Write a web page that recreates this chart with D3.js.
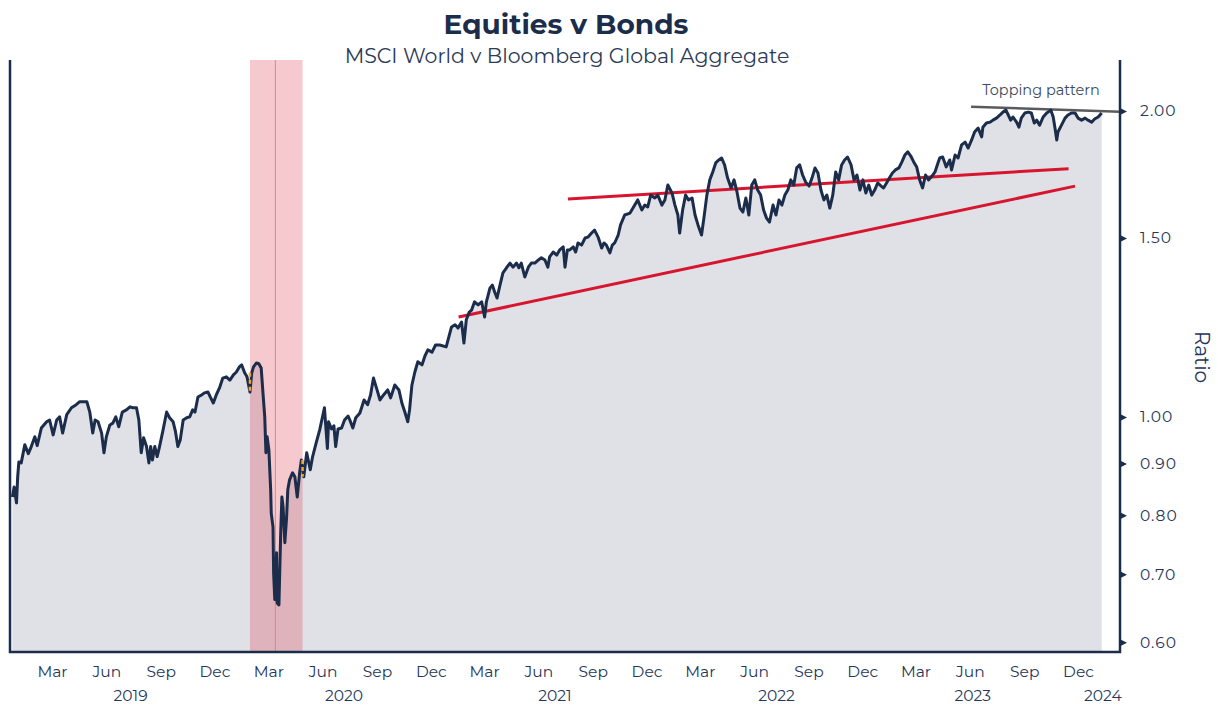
<!DOCTYPE html>
<html>
<head>
<meta charset="utf-8">
<script src="https://cdn.jsdelivr.net/npm/d3@7"></script>
<style>
    html, body { margin: 0; padding: 0; background: #ffffff; }
    #chart svg { display: block; font-family: "Montserrat", "DejaVu Sans", sans-serif; }
</style>
</head>
<body>
<div id="chart"></div>
<script>
// ---- data ----
const dates = [
    "2018-12-24","2018-12-27","2018-12-31","2019-01-02","2019-01-04","2019-01-08","2019-01-14","2019-01-20","2019-01-25","2019-01-31",
    "2019-02-04","2019-02-11","2019-02-20","2019-02-25","2019-03-03","2019-03-09","2019-03-14","2019-03-19","2019-03-26","2019-04-03",
    "2019-04-11","2019-04-17","2019-04-29","2019-05-04","2019-05-09","2019-05-13","2019-05-18","2019-05-24","2019-05-28","2019-06-01",
    "2019-06-07","2019-06-12","2019-06-17","2019-06-22","2019-06-28","2019-07-05","2019-07-11","2019-07-16","2019-07-22","2019-07-26",
    "2019-07-30","2019-08-03","2019-08-08","2019-08-12","2019-08-15","2019-08-18","2019-08-22","2019-08-26","2019-08-30","2019-09-05",
    "2019-09-11","2019-09-16","2019-09-22","2019-09-26","2019-09-30","2019-10-04","2019-10-09","2019-10-15","2019-10-20","2019-10-25",
    "2019-10-29","2019-11-03","2019-11-09","2019-11-14","2019-11-20","2019-11-24","2019-11-29","2019-12-04","2019-12-10","2019-12-15",
    "2019-12-21","2019-12-27","2020-01-02","2020-01-07","2020-01-12","2020-01-16","2020-01-21","2020-01-25","2020-01-30","2020-02-02",
    "2020-02-05","2020-02-10","2020-02-14","2020-02-18","2020-02-21","2020-02-24","2020-02-26","2020-02-28","2020-03-02","2020-03-05",
    "2020-03-06","2020-03-09","2020-03-10","2020-03-12","2020-03-15","2020-03-16","2020-03-19","2020-03-22","2020-03-24","2020-03-26",
    "2020-03-29","2020-04-01","2020-04-03","2020-04-06","2020-04-11","2020-04-15","2020-04-19","2020-04-23","2020-04-26","2020-04-30",
    "2020-05-05","2020-05-11","2020-05-15","2020-05-21","2020-05-27","2020-06-04","2020-06-09","2020-06-11","2020-06-16","2020-06-20",
    "2020-06-23","2020-06-27","2020-07-03","2020-07-08","2020-07-14","2020-07-17","2020-07-22","2020-07-27","2020-08-03","2020-08-10",
    "2020-08-16","2020-08-21","2020-08-26","2020-09-01","2020-09-06","2020-09-12","2020-09-19","2020-09-24","2020-10-01","2020-10-08",
    "2020-10-13","2020-10-18","2020-10-23","2020-10-26","2020-10-30","2020-11-04","2020-11-09","2020-11-16","2020-11-21","2020-11-26",
    "2020-12-03","2020-12-09","2020-12-16","2020-12-27","2021-01-05","2021-01-11","2021-01-16","2021-01-22","2021-01-26","2021-01-30",
    "2021-02-04","2021-02-08","2021-02-13","2021-02-19","2021-02-25","2021-03-02","2021-03-05","2021-03-11","2021-03-15","2021-03-19",
    "2021-03-23","2021-03-28","2021-04-02","2021-04-08","2021-04-14","2021-04-19","2021-04-25","2021-04-29","2021-05-03","2021-05-09",
    "2021-05-15","2021-05-20","2021-05-26","2021-06-01","2021-06-06","2021-06-12","2021-06-17","2021-06-20","2021-06-26","2021-07-02",
    "2021-07-07","2021-07-13","2021-07-16","2021-07-20","2021-07-24","2021-07-30","2021-08-03","2021-08-07","2021-08-13","2021-08-19",
    "2021-08-24","2021-08-30","2021-09-04","2021-09-10","2021-09-16","2021-09-20","2021-09-24","2021-09-30","2021-10-04","2021-10-08",
    "2021-10-14","2021-10-18","2021-10-25","2021-11-03","2021-11-11","2021-11-16","2021-11-23","2021-11-28","2021-12-03","2021-12-08",
    "2021-12-15","2021-12-20","2021-12-27","2022-01-01","2022-01-06","2022-01-13","2022-01-18","2022-01-23","2022-01-26","2022-01-31",
    "2022-02-05","2022-02-10","2022-02-16","2022-02-21","2022-02-26","2022-03-04","2022-03-08","2022-03-13","2022-03-18","2022-03-23",
    "2022-03-28","2022-04-02","2022-04-07","2022-04-12","2022-04-17","2022-04-23","2022-04-28","2022-05-03","2022-05-08","2022-05-13",
    "2022-05-18","2022-05-23","2022-05-28","2022-06-02","2022-06-07","2022-06-12","2022-06-17","2022-06-22","2022-06-27","2022-07-03",
    "2022-07-08","2022-07-13","2022-07-18","2022-07-23","2022-07-28","2022-08-02","2022-08-07","2022-08-12","2022-08-17","2022-08-22",
    "2022-08-27","2022-09-02","2022-09-07","2022-09-12","2022-09-17","2022-09-22","2022-09-27","2022-10-02","2022-10-07","2022-10-12",
    "2022-10-17","2022-10-22","2022-10-27","2022-11-01","2022-11-06","2022-11-12","2022-11-17","2022-11-22","2022-11-27","2022-12-02",
    "2022-12-07","2022-12-12","2022-12-17","2022-12-22","2022-12-27","2023-01-02","2023-01-06","2023-01-11","2023-01-16","2023-01-21",
    "2023-01-26","2023-02-01","2023-02-06","2023-02-11","2023-02-16","2023-02-21","2023-02-26","2023-03-03","2023-03-08","2023-03-13",
    "2023-03-18","2023-03-23","2023-03-29","2023-04-03","2023-04-08","2023-04-11","2023-04-16","2023-04-22","2023-04-28","2023-05-01",
    "2023-05-07","2023-05-12","2023-05-18","2023-05-24","2023-05-29","2023-06-04","2023-06-09","2023-06-15","2023-06-21","2023-06-23",
    "2023-06-29","2023-07-05","2023-07-10","2023-07-16","2023-07-22","2023-07-27","2023-08-01","2023-08-05","2023-08-09","2023-08-13",
    "2023-08-19","2023-08-23","2023-08-27","2023-09-02","2023-09-08","2023-09-13","2023-09-18","2023-09-22","2023-09-27","2023-10-03",
    "2023-10-09","2023-10-16","2023-10-20","2023-10-23","2023-10-26","2023-10-28","2023-11-03","2023-11-09","2023-11-14","2023-11-20",
    "2023-11-26","2023-12-01","2023-12-07","2023-12-13","2023-12-18","2023-12-24","2023-12-29","2024-01-04","2024-01-10"
];

const ratio = [
    0.834,0.853,0.823,0.873,0.903,0.901,0.939,0.920,0.935,0.956,
    0.937,0.975,0.989,0.993,0.960,0.993,1.000,0.964,1.005,1.021,
    1.028,1.035,1.035,1.011,0.964,0.993,0.989,0.964,0.922,0.956,
    0.982,0.986,1.000,0.978,1.011,1.016,1.023,1.021,1.021,0.993,
    0.922,0.954,0.935,0.901,0.935,0.907,0.935,0.914,0.935,0.971,
    1.011,0.998,0.989,0.967,0.935,0.949,0.993,0.998,1.000,1.016,
    1.011,1.046,1.051,1.056,1.058,1.046,1.032,1.051,1.070,1.092,
    1.095,1.087,1.100,1.107,1.120,1.125,1.105,1.095,1.058,1.105,
    1.120,1.130,1.128,1.117,1.056,1.000,0.922,0.956,0.928,0.848,
    0.804,0.779,0.702,0.661,0.735,0.656,0.653,0.769,0.834,0.816,
    0.752,0.797,0.848,0.867,0.881,0.873,0.834,0.881,0.907,0.873,
    0.922,0.887,0.914,0.943,0.971,1.021,0.931,0.989,0.973,0.980,
    0.935,0.973,0.975,0.993,1.002,0.993,0.975,0.998,1.009,1.039,
    1.028,1.051,1.092,1.063,1.039,1.051,1.063,1.044,1.075,1.063,
    1.032,1.011,0.989,1.016,1.075,1.107,1.133,1.125,1.148,1.164,
    1.158,1.177,1.177,1.172,1.226,1.232,1.223,1.240,1.182,1.246,
    1.268,1.274,1.298,1.289,1.298,1.254,1.298,1.339,1.348,1.327,
    1.309,1.348,1.386,1.402,1.417,1.404,1.417,1.402,1.417,1.373,
    1.404,1.417,1.417,1.427,1.434,1.427,1.404,1.437,1.453,1.443,
    1.460,1.470,1.404,1.460,1.460,1.470,1.453,1.483,1.476,1.500,
    1.503,1.517,1.527,1.503,1.466,1.483,1.476,1.450,1.476,1.483,
    1.510,1.545,1.580,1.587,1.616,1.635,1.598,1.616,1.609,1.653,
    1.642,1.653,1.616,1.635,1.691,1.661,1.616,1.580,1.517,1.598,
    1.653,1.635,1.642,1.580,1.545,1.510,1.569,1.653,1.711,1.742,
    1.778,1.790,1.798,1.770,1.719,1.680,1.711,1.665,1.605,1.591,
    1.642,1.580,1.691,1.711,1.672,1.653,1.598,1.569,1.555,1.616,
    1.580,1.635,1.616,1.653,1.672,1.711,1.691,1.758,1.770,1.730,
    1.703,1.687,1.719,1.758,1.738,1.672,1.635,1.653,1.605,1.653,
    1.742,1.711,1.770,1.790,1.802,1.770,1.711,1.730,1.672,1.711,
    1.661,1.691,1.653,1.672,1.699,1.687,1.680,1.699,1.719,1.738,
    1.750,1.758,1.782,1.810,1.823,1.806,1.782,1.762,1.711,1.680,
    1.730,1.711,1.726,1.742,1.778,1.798,1.802,1.762,1.790,1.750,
    1.810,1.798,1.852,1.864,1.839,1.873,1.907,1.924,1.886,1.928,
    1.946,1.950,1.959,1.968,1.982,1.995,2.004,1.982,1.959,1.973,
    1.950,1.928,1.968,1.991,1.995,1.991,1.946,1.959,1.937,1.973,
    1.991,2.004,1.973,1.924,1.873,1.907,1.937,1.968,1.982,1.991,
    1.991,1.968,1.959,1.968,1.959,1.950,1.964,1.973,1.991
];

const xDomain = ["2018-12-20", "2024-02-10"];
const yDomain = [0.587, 2.245];
const yTicks = [0.6, 0.7, 0.8, 0.9, 1.0, 1.5, 2.0];
const yearLabels = ["2019", "2020", "2021", "2022", "2023", "2024"];
const yearLabelDates = ["2019-07-12", "2020-07-07", "2021-06-29", "2022-07-09", "2023-06-06", "2024-01-12"];

// Covid shading and its marker line
const covidBand = ["2020-01-30", "2020-04-28"];
const covidLine = "2020-03-13";

// drawn trend lines
const lowerTrendDates = ["2021-01-17", "2023-11-26"];
const lowerTrendValues = [1.254, 1.687];
const upperTrendDates = ["2021-07-21", "2023-11-15"];
const upperTrendValues = [1.638, 1.755];
const toppingDates = ["2023-06-03", "2024-02-10"];
const toppingValues = [2.019, 1.997];

// ---- chart ----
const navy = '#1b2d4b';
const W = 1218, H = 706;
const plot = { left: 10, right: 1120, top: 60, bottom: 652 };
const parse = d3.utcParse('%Y-%m-%d');

const series = dates.map((d, i) => ({ date: parse(d), value: ratio[i] }));

const x = d3.scaleUtc()
    .domain(xDomain.map(parse))
    .range([plot.left, plot.right]);

const y = d3.scaleLog()
    .domain(yDomain)
    .range([plot.bottom, plot.top]);

const svg = d3.select('#chart').append('svg')
    .attr('width', W)
    .attr('height', H);

svg.append('defs').append('clipPath')
    .attr('id', 'plot-clip')
    .append('rect')
    .attr('x', plot.left)
    .attr('y', plot.top)
    .attr('width', plot.right - plot.left)
    .attr('height', plot.bottom - plot.top);

const g = svg.append('g').attr('clip-path', 'url(#plot-clip)');

// Area under the ratio
const area = d3.area()
    .x(d => x(d.date))
    .y0(plot.bottom)
    .y1(d => y(d.value));

g.append('path')
    .datum(series)
    .attr('d', area)
    .attr('fill', '#dfe1e6');

// Covid shading
g.append('rect')
    .attr('x', x(parse(covidBand[0])))
    .attr('y', plot.top)
    .attr('width', x(parse(covidBand[1])) - x(parse(covidBand[0])))
    .attr('height', plot.bottom - plot.top)
    .attr('fill', 'rgba(220, 60, 80, 0.28)');

g.append('line')
    .attr('x1', x(parse(covidLine)))
    .attr('x2', x(parse(covidLine)))
    .attr('y1', plot.top)
    .attr('y2', plot.bottom)
    .attr('stroke', '#e5808f')
    .attr('stroke-width', 1);

// Trend lines
const trend = (ds, vs) => ds.map((d, i) => ({ date: parse(d), value: vs[i] }));
const segLine = d3.line().x(d => x(d.date)).y(d => y(d.value));

[[lowerTrendDates, lowerTrendValues], [upperTrendDates, upperTrendValues]].forEach(([ds, vs]) => {
    g.append('path')
        .datum(trend(ds, vs))
        .attr('d', segLine)
        .attr('fill', 'none')
        .attr('stroke', '#d7152e')
        .attr('stroke-width', 3);
});

g.append('path')
    .datum(trend(toppingDates, toppingValues))
    .attr('d', segLine)
    .attr('fill', 'none')
    .attr('stroke', '#5b5b5e')
    .attr('stroke-width', 2.5);

// Ratio line
g.append('path')
    .datum(series)
    .attr('d', segLine)
    .attr('fill', 'none')
    .attr('stroke', navy)
    .attr('stroke-width', 3)
    .attr('stroke-linejoin', 'round');

// Orange marks where the line meets the shading edges
covidBand.forEach(edge => {
    const e = parse(edge);
    const near = series.filter(d => Math.abs(d.date - e) <= 4 * 864e5);
    if (!near.length) return;
    g.append('line')
        .attr('x1', x(e)).attr('x2', x(e))
        .attr('y1', y(d3.max(near, d => d.value)))
        .attr('y2', y(d3.min(near, d => d.value)))
        .attr('stroke', '#f0a530')
        .attr('stroke-width', 2.5)
        .attr('stroke-dasharray', '4,3');
});

// Topping pattern label
svg.append('text')
    .attr('x', 1041)
    .attr('y', 95)
    .attr('text-anchor', 'middle')
    .style('font-size', '14.5px')
    .style('fill', '#3b4a60')
    .text('Topping pattern');

// Axis frame
svg.append('path')
    .attr('d', `M${plot.left},${plot.top}V${plot.bottom}H${plot.right}V${plot.top}`)
    .attr('fill', 'none')
    .attr('stroke', navy)
    .attr('stroke-width', 2.5);

// X axis: quarter months
const quarterTicks = d3.utcMonth.range(parse('2019-01-01'), parse('2024-01-01'))
    .filter(d => d.getUTCMonth() % 3 === 2);

svg.append('g')
    .attr('transform', `translate(0,${plot.bottom})`)
    .call(d3.axisBottom(x).tickValues(quarterTicks).tickFormat(d3.utcFormat('%b')).tickSize(0))
    .call(a => a.select('.domain').remove())
    .call(a => a.selectAll('text')
        .attr('y', 25)
        .attr('dy', null)
        .style('font-size', '15.5px')
        .style('font-family', '"Montserrat", "DejaVu Sans", sans-serif')
        .style('fill', '#25365a'));

svg.append('g')
    .selectAll('text')
    .data(yearLabels)
    .join('text')
    .attr('x', (d, i) => x(parse(yearLabelDates[i])))
    .attr('y', 701)
    .attr('text-anchor', 'middle')
    .style('font-size', '15.5px')
    .style('fill', '#25365a')
    .text(d => d);

// Right axis (log)
const yAxis = svg.append('g')
    .attr('transform', `translate(${plot.right},0)`)
    .call(d3.axisRight(y).tickValues(yTicks).tickFormat(d3.format('.2f')).tickSize(0).tickPadding(20))
    .call(a => a.select('.domain').remove())
    .call(a => a.selectAll('text')
        .style('font-size', '15.5px')
        .style('letter-spacing', '1px')
        .style('font-family', '"Montserrat", "DejaVu Sans", sans-serif')
        .style('fill', '#25365a'));

yAxis.selectAll('.tick')
    .append('path')
    .attr('d', 'M0,-3.5L7,0L0,3.5Z')
    .attr('fill', navy);

svg.append('text')
    .attr('transform', 'translate(1195,357) rotate(90)')
    .attr('text-anchor', 'middle')
    .style('font-size', '20px')
    .style('fill', '#25365a')
    .text('Ratio');

// Titles
svg.append('text')
    .attr('x', 566)
    .attr('y', 34)
    .attr('text-anchor', 'middle')
    .style('font-size', '28px')
    .style('font-weight', '700')
    .style('fill', navy)
    .text('Equities v Bonds');

svg.append('text')
    .attr('x', 567)
    .attr('y', 63)
    .attr('text-anchor', 'middle')
    .style('font-size', '20.5px')
    .style('fill', '#2a3a57')
    .text('MSCI World v Bloomberg Global Aggregate');
</script>
</body>
</html>
